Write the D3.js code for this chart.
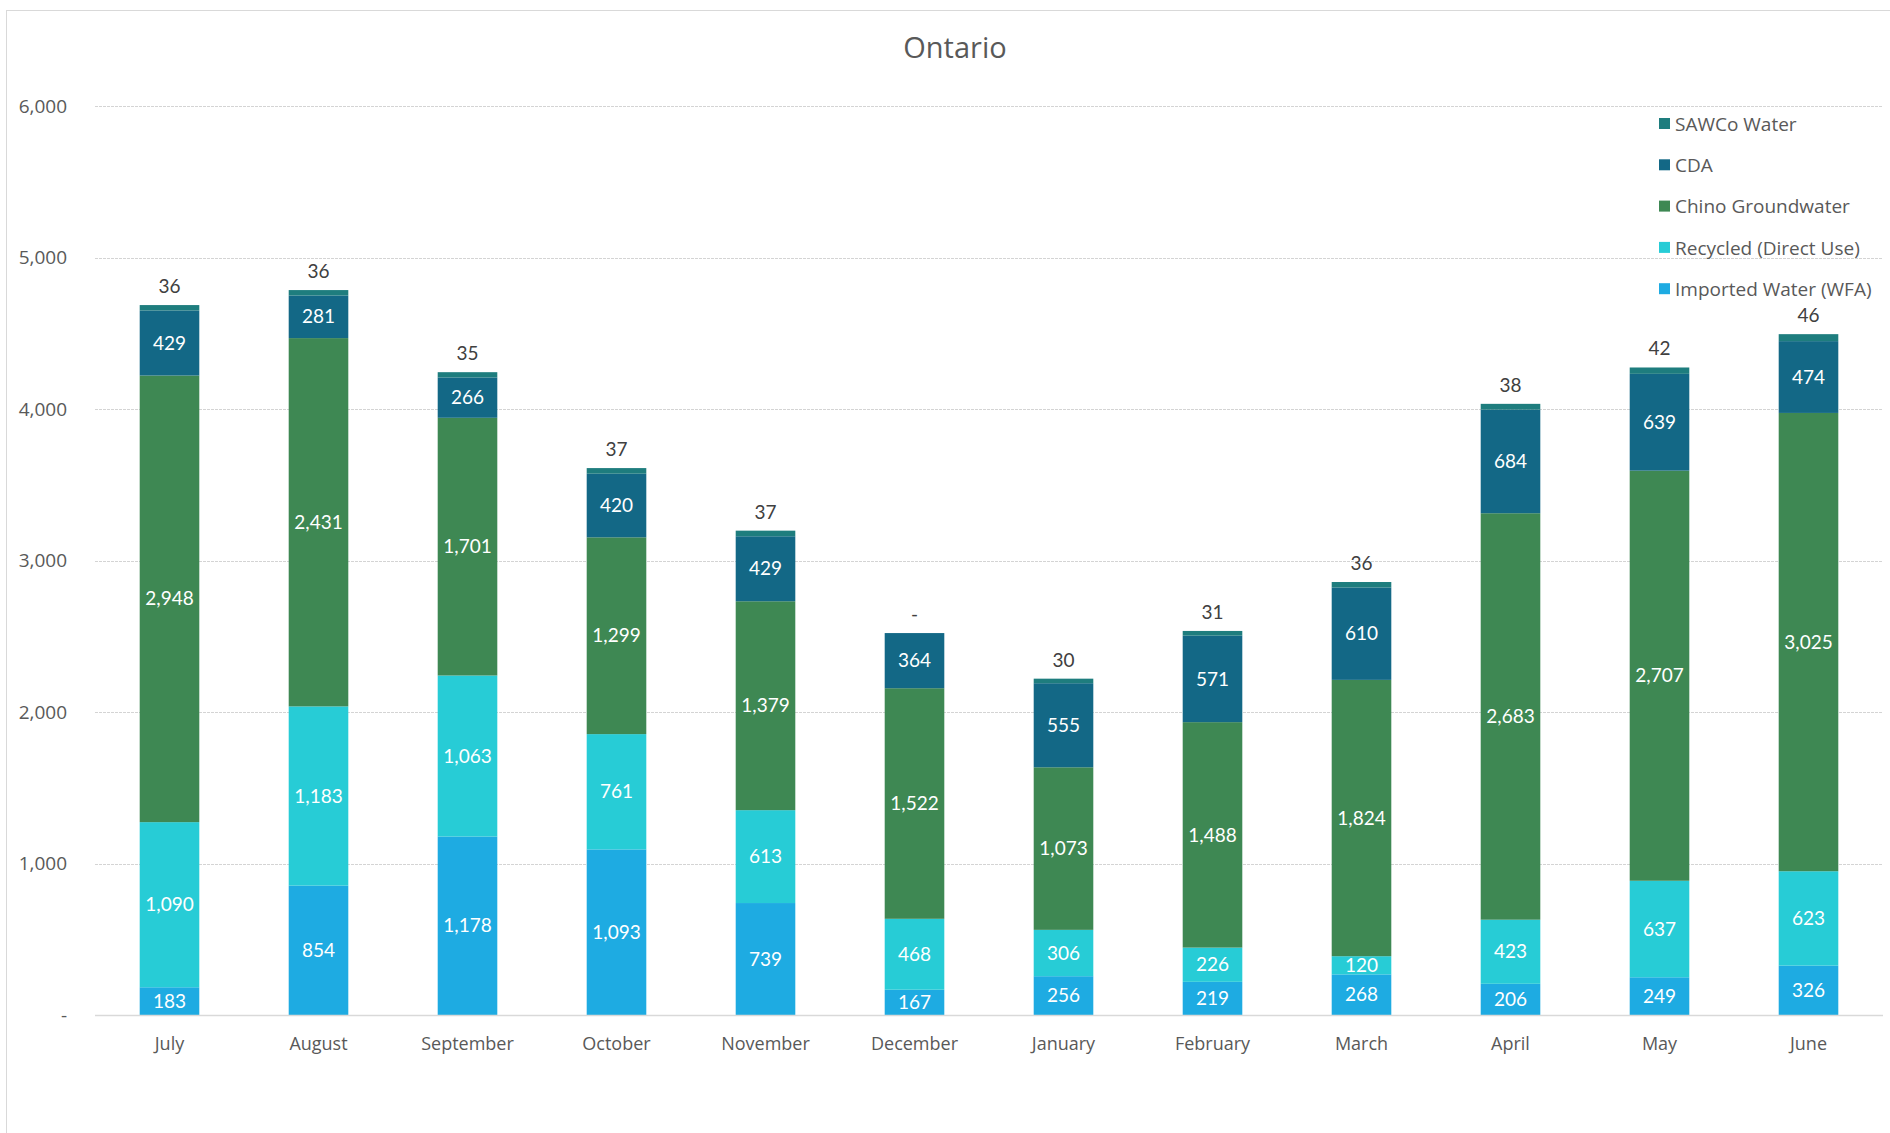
<!DOCTYPE html>
<html>
<head>
<meta charset="utf-8">
<script src="https://cdn.jsdelivr.net/npm/d3@7"></script>
<style>
  body { margin: 0; background: #fff; }
  svg { display: block; font-family: Lato, "Open Sans", sans-serif; }
  .grid line { stroke: #d4d4d4; stroke-dasharray: 3,1; }
  .ytick text { fill: #595959; font-size: 19px; font-family: "Open Sans", sans-serif; }
  .xlabel { fill: #595959; font-size: 18px; font-family: "Open Sans", sans-serif; }
  .inlabel { fill: #fff; font-size: 19px; }
  .toplabel { fill: #404040; font-size: 19px; }
  .legend text { fill: #595959; font-size: 19px; font-family: "Open Sans", sans-serif; }
</style>
</head>
<body>
<svg width="1890" height="1133"></svg>
<script>
  const months = ['July', 'August', 'September', 'October', 'November', 'December',
    'January', 'February', 'March', 'April', 'May', 'June'];

  const seriesNames = ['Imported Water (WFA)', 'Recycled (Direct Use)', 'Chino Groundwater', 'CDA', 'SAWCo Water'];
  const seriesColors = ['#1eabe2', '#27ccd6', '#3e8853', '#136886', '#1e7d7e'];

  const imported = [183, 854, 1178, 1093, 739, 167, 256, 219, 268, 206, 249, 326];
  const recycled = [1090, 1183, 1063, 761, 613, 468, 306, 226, 120, 423, 637, 623];
  const chino = [2948, 2431, 1701, 1299, 1379, 1522, 1073, 1488, 1824, 2683, 2707, 3025];
  const cda = [429, 281, 266, 420, 429, 364, 555, 571, 610, 684, 639, 474];
  const sawco = [36, 36, 35, 37, 37, 0, 30, 31, 36, 38, 42, 46];

  const yTicks = [0, 1000, 2000, 3000, 4000, 5000, 6000];

  const seriesValues = [imported, recycled, chino, cda, sawco];
  const rows = months.map((m, i) => {
    const row = { month: m };
    seriesNames.forEach((s, k) => { row[s] = seriesValues[k][i]; });
    return row;
  });

  const svg = d3.select('svg');
  const margin = { left: 95, right: 7, top: 106, bottom: 118 };
  const width = 1890, height = 1133;

  // chart frame
  svg.append('rect')
    .attr('x', 6.5).attr('y', 10.5)
    .attr('width', width).attr('height', height)
    .attr('fill', 'none').attr('stroke', '#d9d9d9');

  svg.append('text')
    .attr('x', 955).attr('y', 58)
    .attr('text-anchor', 'middle')
    .attr('fill', '#595959')
    .style('font-family', '"Open Sans", sans-serif')
    .style('font-size', '29px')
    .text('Ontario');

  const x = d3.scaleBand()
    .domain(months)
    .range([margin.left, width - margin.right])
    .paddingInner(0.6)
    .paddingOuter(0.3);

  const y = d3.scaleLinear()
    .domain([0, 6000])
    .range([height - margin.bottom, margin.top]);

  const fmt = v => v === 0 ? '-' : d3.format(',')(v);

  const grid = svg.append('g').attr('class', 'grid');
  grid.selectAll('line').data(yTicks.filter(d => d > 0))
    .enter().append('line')
    .attr('x1', margin.left).attr('x2', width - margin.right)
    .attr('y1', d => Math.round(y(d)) + 0.5).attr('y2', d => Math.round(y(d)) + 0.5);

  const yt = svg.append('g').attr('class', 'ytick');
  yt.selectAll('text').data(yTicks)
    .enter().append('text')
    .attr('x', 67).attr('y', d => y(d))
    .attr('dy', '0.35em')
    .attr('text-anchor', 'end')
    .text(fmt);

  const stack = d3.stack().keys(seriesNames)(rows);

  const layers = svg.selectAll('g.layer').data(stack)
    .enter().append('g')
    .attr('class', 'layer')
    .attr('fill', (d, i) => seriesColors[i]);

  layers.selectAll('rect').data(d => d)
    .enter().append('rect')
    .attr('x', d => x(d.data.month))
    .attr('width', x.bandwidth())
    .attr('y', d => y(d[1]))
    .attr('height', d => y(d[0]) - y(d[1]));

  // labels inside the bars (all but top series)
  stack.slice(0, 4).forEach(layer => {
    svg.append('g').selectAll('text').data(layer)
      .enter().append('text')
      .attr('class', 'inlabel')
      .attr('x', d => x(d.data.month) + x.bandwidth() / 2)
      .attr('y', d => (y(d[0]) + y(d[1])) / 2)
      .attr('dy', '0.35em')
      .attr('text-anchor', 'middle')
      .text(d => fmt(d[1] - d[0]));
  });

  // top series labels above the bar
  const topLayer = stack[4];
  svg.append('g').selectAll('text').data(topLayer)
    .enter().append('text')
    .attr('class', 'toplabel')
    .attr('x', d => x(d.data.month) + x.bandwidth() / 2)
    .attr('y', d => y(d[1]) - 12)
    .attr('text-anchor', 'middle')
    .text(d => fmt(d[1] - d[0]));

  // baseline
  svg.append('line')
    .attr('x1', margin.left).attr('x2', width - margin.right)
    .attr('y1', y(0) + 0.5).attr('y2', y(0) + 0.5)
    .attr('stroke', '#d9d9d9').attr('stroke-width', 1.5);

  svg.append('g').selectAll('text').data(months)
    .enter().append('text')
    .attr('class', 'xlabel')
    .attr('x', d => x(d) + x.bandwidth() / 2)
    .attr('y', y(0) + 35)
    .attr('text-anchor', 'middle')
    .text(d => d);

  // legend, top series first
  const legendItems = seriesNames.map((s, i) => ({ name: s, color: seriesColors[i] })).reverse();
  const legend = svg.append('g').attr('class', 'legend')
    .attr('transform', 'translate(1659,124)');
  const li = legend.selectAll('g').data(legendItems)
    .enter().append('g')
    .attr('transform', (d, i) => `translate(0, ${i * 41.3})`);
  li.append('rect')
    .attr('x', 0).attr('y', -6)
    .attr('width', 11).attr('height', 11)
    .attr('fill', d => d.color);
  li.append('text')
    .attr('x', 16).attr('dy', '0.35em')
    .text(d => d.name);
</script>
</body>
</html>
